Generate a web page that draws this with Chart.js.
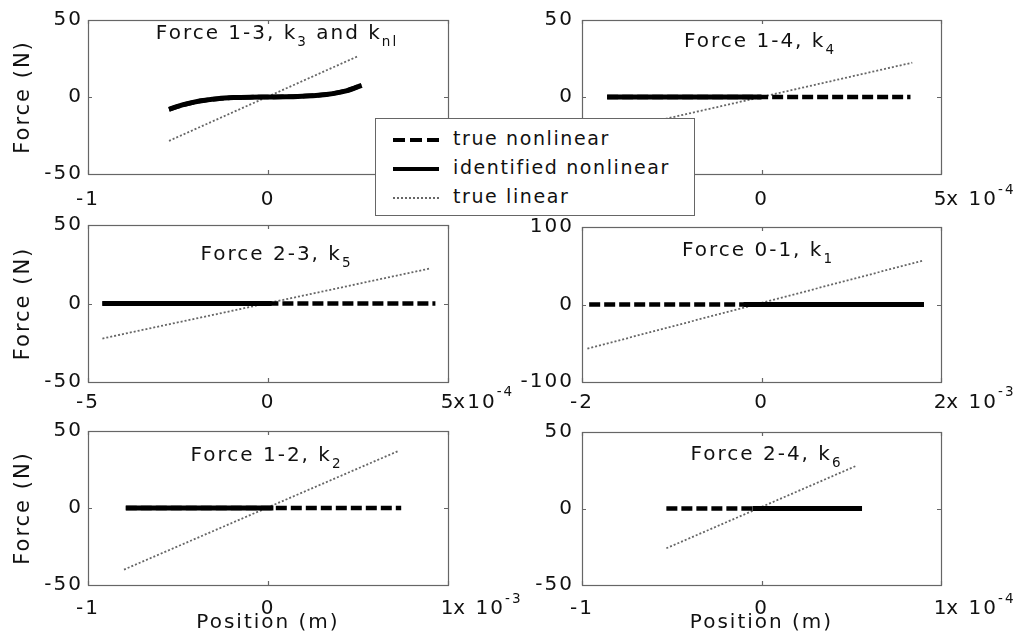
<!DOCTYPE html>
<html lang="en">
<head>
<meta charset="UTF-8">
<title>Spring forces: true vs identified</title>
<script src="https://cdn.jsdelivr.net/npm/chart.js"></script>
<style>
  body { margin: 0; background: #fff; width: 1018px; height: 641px; overflow: hidden; position: relative; font-family: 'DejaVu Sans', sans-serif; }
  canvas.panel { position: absolute; }
  #legend { position: absolute; left: 375px; top: 118px; width: 318px; height: 96px; background: #fff; border: 1px solid #666; }
  #legend svg { position: absolute; left: 0; top: 0; }
  #legend span { position: absolute; left: 77px; font-size: 19px; letter-spacing: 1.6px; color: #111; line-height: 20px; white-space: nowrap; }
</style>
</head>
<body>
<canvas class="panel" id="p13"></canvas>
<canvas class="panel" id="p14"></canvas>
<canvas class="panel" id="p23"></canvas>
<canvas class="panel" id="p01"></canvas>
<canvas class="panel" id="p12"></canvas>
<canvas class="panel" id="p24"></canvas>

<div id="legend">
  <svg width="318" height="96">
    <line x1="17" x2="63" y1="21" y2="21" stroke="#000" stroke-width="4" stroke-dasharray="12 5"/>
    <line x1="17" x2="63" y1="50" y2="50" stroke="#000" stroke-width="4"/>
    <line x1="17" x2="63" y1="79" y2="79" stroke="#666" stroke-width="1.8" stroke-dasharray="2 2"/>
  </svg>
  <span style="top:9px">true nonlinear</span>
  <span style="top:38px">identified nonlinear</span>
  <span style="top:67px">true linear</span>
</div>

<script>
// tick values (x in units of the exponent shown at the axis end)
const xTicks13 = [-1, 0, 1];
const xTicks14 = [-5, 0, 5];
const xTicks23 = [-5, 0, 5];
const xTicks01 = [-2, 0, 2];
const xTicks12 = [-1, 0, 1];
const xTicks24 = [-1, 0, 1];
const yTicks50 = [-50, 0, 50];
const yTicks100 = [-100, 0, 100];

// Force 1-3 (x 1e-3 m): cubic spring, true and identified coincide
const k13LinX = [-0.55, 0.50];
const k13LinY = [-28.5, 26.5];
const k13NlX = [-0.55, -0.47, -0.38, -0.28, -0.19, -0.10, 0, 0.10, 0.19, 0.28, 0.36, 0.44, 0.52];
const k13NlY = [-8.0, -5.0, -2.6, -1.1, -0.4, -0.1, 0, 0.1, 0.5, 1.1, 2.2, 4.2, 7.6];
const k13IdX = [-0.55, -0.47, -0.38, -0.28, -0.19, -0.10, 0, 0.10, 0.19, 0.28, 0.36, 0.44, 0.52];
const k13IdY = [-8.0, -5.0, -2.6, -1.1, -0.4, -0.1, 0, 0.1, 0.5, 1.1, 2.2, 4.2, 7.6];

// Force 1-4 (x 1e-4 m)
const k14LinX = [-4.3, 4.2];
const k14LinY = [-22.8, 22.3];
const k14TrueX = [-4.3, 4.15];
const k14TrueY = [0, 0];
const k14IdX = [-4.3, 0];
const k14IdY = [0, 0];

// Force 2-3 (x 1e-4 m)
const k23LinX = [-4.6, 4.5];
const k23LinY = [-22.3, 22.3];
const k23TrueX = [-4.6, 4.65];
const k23TrueY = [0, 0];
const k23IdX = [-4.6, 0.1];
const k23IdY = [0, 0];

// Force 0-1 (x 1e-3 m)
const k01LinX = [-1.94, 1.81];
const k01LinY = [-57, 57];
const k01TrueX = [-1.92, 1.81];
const k01TrueY = [0, 0];
const k01IdX = [-0.2, 1.81];
const k01IdY = [0, 0];

// Force 1-2 (x 1e-3 m)
const k12LinX = [-0.80, 0.72];
const k12LinY = [-40, 36.8];
const k12TrueX = [-0.79, 0.74];
const k12TrueY = [0, 0];
const k12IdX = [-0.79, 0.03];
const k12IdY = [0, 0];

// Force 2-4 (x 1e-4 m)
const k24LinX = [-0.53, 0.53];
const k24LinY = [-26, 28];
const k24TrueX = [-0.53, 0.56];
const k24TrueY = [0, 0];
const k24IdX = [-0.05, 0.56];
const k24IdY = [0, 0];

// titles: odd entries are subscripts
const title13 = ['Force 1-3, k', '3', ' and k', 'nl'];
const title14 = ['Force 1-4, k', '4'];
const title23 = ['Force 2-3, k', '5'];
const title01 = ['Force 0-1, k', '1'];
const title12 = ['Force 1-2, k', '2'];
const title24 = ['Force 2-4, k', '6'];

const FONT = "'DejaVu Sans', sans-serif";
const SPACING = '2px';

Chart.defaults.font.family = FONT;
Chart.defaults.font.size = 20;
Chart.defaults.color = '#111';
Chart.defaults.animation = false;
Chart.defaults.events = [];
Chart.defaults.plugins.legend.display = false;
Chart.defaults.plugins.tooltip.enabled = false;

const colGeom = [
  { left: 0, width: 520, axisW: 88, padR: 72, tickPad: 5 },
  { left: 509, width: 509, axisW: 73, padR: 77, tickPad: 8 }
];
const rowGeom = [
  { top: 0, h: 207, padT: 20, axisH: 33, tickPad: 14 },
  { top: 207, h: 205, padT: 18, axisH: 30, tickPad: 8.5 },
  { top: 412, h: 229, padT: 19, axisH: 56, tickPad: 12 }
];

const styles = {
  trueNl: { borderColor: '#000', borderWidth: 4.5, borderDash: [11, 4] },
  idNl: { borderColor: '#000', borderWidth: 5 },
  lin: { borderColor: '#666', borderWidth: 1.8, borderDash: [2, 2] }
};

const panels = [
  { id: 'p13', col: 0, row: 0, title: title13, titleDx: 9, titleDy: 18.5, xTicks: xTicks13, yTicks: yTicks50, expo: ['x 10', '-3'],
    trueNl: [k13NlX, k13NlY], idNl: [k13IdX, k13IdY], lin: [k13LinX, k13LinY] },
  { id: 'p14', col: 1, row: 0, title: title14, titleDx: -1.5, titleDy: 27, xTicks: xTicks14, yTicks: yTicks50, expo: ['x 10', '-4'],
    trueNl: [k14TrueX, k14TrueY], idNl: [k14IdX, k14IdY], lin: [k14LinX, k14LinY] },
  { id: 'p23', col: 0, row: 1, title: title23, titleDx: 8.5, titleDy: 35, xTicks: xTicks23, yTicks: yTicks50, expo: ['x10', '-4'],
    trueNl: [k23TrueX, k23TrueY], idNl: [k23IdX, k23IdY], lin: [k23LinX, k23LinY] },
  { id: 'p01', col: 1, row: 1, title: title01, titleDx: -3.5, titleDy: 28.5, xTicks: xTicks01, yTicks: yTicks100, expo: ['x 10', '-3'],
    trueNl: [k01TrueX, k01TrueY], idNl: [k01IdX, k01IdY], lin: [k01LinX, k01LinY] },
  { id: 'p12', col: 0, row: 2, title: title12, titleDx: -1.5, titleDy: 29.5, xTicks: xTicks12, yTicks: yTicks50, expo: ['x 10', '-3'],
    trueNl: [k12TrueX, k12TrueY], idNl: [k12IdX, k12IdY], lin: [k12LinX, k12LinY] },
  { id: 'p24', col: 1, row: 2, title: title24, titleDx: 5, titleDy: 27.5, xTicks: xTicks24, yTicks: yTicks50, expo: ['x 10', '-4'],
    trueNl: [k24TrueX, k24TrueY], idNl: [k24IdX, k24IdY], lin: [k24LinX, k24LinY] }
];

function pts(xs, ys) {
  return xs.map((x, i) => ({ x, y: ys[i] }));
}

// draws text runs left to right; every second run is shifted (sub/superscript) and smaller
function drawRuns(ctx, runs, x, y, shift, align) {
  const big = '20px ' + FONT, small = '13.5px ' + FONT;
  ctx.letterSpacing = SPACING;
  let w = 0;
  runs.forEach((t, i) => { ctx.font = i % 2 ? small : big; w += ctx.measureText(t).width; });
  let cx = align === 'center' ? x - w / 2 : x;
  ctx.textAlign = 'left';
  runs.forEach((t, i) => {
    ctx.font = i % 2 ? small : big;
    ctx.fillText(t, cx, y + (i % 2 ? shift : 0));
    cx += ctx.measureText(t).width;
  });
}

function framePlugin(p, r) {
  return {
    id: 'frame',
    beforeUpdate(chart) { chart.ctx.letterSpacing = SPACING; },
    beforeDraw(chart) { chart.ctx.letterSpacing = SPACING; },
    beforeDatasetsDraw(chart) {
      const { ctx, chartArea: a, scales: { x, y } } = chart;
      ctx.save();
      ctx.strokeStyle = '#666';
      ctx.lineWidth = 1.2;
      ctx.strokeRect(Math.round(a.left) + 0.5, Math.round(a.top) + 0.5, Math.round(a.width), Math.round(a.height));
      // short inward tick marks on all four sides
      ctx.beginPath();
      x.ticks.forEach(t => {
        const px = Math.round(x.getPixelForValue(t.value)) + 0.5;
        ctx.moveTo(px, a.top); ctx.lineTo(px, a.top + 4);
        ctx.moveTo(px, a.bottom); ctx.lineTo(px, a.bottom - 4);
      });
      y.ticks.forEach(t => {
        const py = Math.round(y.getPixelForValue(t.value)) + 0.5;
        ctx.moveTo(a.left, py); ctx.lineTo(a.left + 4, py);
        ctx.moveTo(a.right, py); ctx.lineTo(a.right - 4, py);
      });
      ctx.stroke();
      ctx.restore();
    },
    afterDatasetsDraw(chart) {
      const { ctx, chartArea: a, scales: { x } } = chart;
      ctx.save();
      ctx.fillStyle = '#111';
      // panel title with subscripts
      ctx.textBaseline = 'alphabetic';
      drawRuns(ctx, p.title, (a.left + a.right) / 2 + p.titleDx, a.top + p.titleDy, 7, 'center');
      // axis multiplier after the last x tick label
      ctx.font = '20px ' + FONT;
      ctx.letterSpacing = SPACING;
      const last = p.xTicks[p.xTicks.length - 1];
      const lw = ctx.measureText(String(last)).width;
      const ex = x.getPixelForValue(last) + lw / 2 - 2;
      ctx.textBaseline = 'middle';
      drawRuns(ctx, p.expo, ex, a.bottom + r.tickPad + 12, -10, 'left');
      ctx.restore();
    }
  };
}

panels.forEach(p => {
  const c = colGeom[p.col], r = rowGeom[p.row];
  const cv = document.getElementById(p.id);
  cv.width = c.width;
  cv.height = r.h;
  cv.style.left = c.left + 'px';
  cv.style.top = r.top + 'px';

  new Chart(cv, {
    type: 'scatter',
    data: {
      datasets: [
        { label: 'true nonlinear', data: pts(...p.trueNl), showLine: true, pointRadius: 0, ...styles.trueNl },
        { label: 'identified nonlinear', data: pts(...p.idNl), showLine: true, pointRadius: 0, cubicInterpolationMode: 'monotone', ...styles.idNl },
        { label: 'true linear', data: pts(...p.lin), showLine: true, pointRadius: 0, ...styles.lin }
      ]
    },
    options: {
      responsive: false,
      layout: { padding: { left: 0, right: c.padR, top: r.padT, bottom: 0 } },
      scales: {
        x: {
          type: 'linear',
          min: p.xTicks[0],
          max: p.xTicks[p.xTicks.length - 1],
          afterBuildTicks: s => { s.ticks = p.xTicks.map(v => ({ value: v })); },
          afterFit: s => { s.height = r.axisH; },
          grid: { display: false, drawTicks: false },
          border: { display: false },
          ticks: { padding: r.tickPad, maxRotation: 0, autoSkip: false, callback: v => String(v) },
          title: { display: p.row === 2, text: 'Position (m)', padding: { top: 0, bottom: 6 } }
        },
        y: {
          type: 'linear',
          min: p.yTicks[0],
          max: p.yTicks[p.yTicks.length - 1],
          afterBuildTicks: s => { s.ticks = p.yTicks.map(v => ({ value: v })); },
          afterFit: s => { s.width = c.axisW; },
          grid: { display: false, drawTicks: false },
          border: { display: false },
          ticks: { padding: c.tickPad, autoSkip: false, callback: v => String(v) },
          title: { display: p.col === 0, text: 'Force (N)', font: { size: 21 }, padding: { top: 11, bottom: 0 } }
        }
      }
    },
    plugins: [framePlugin(p, r)]
  });
});
</script>
</body>
</html>
